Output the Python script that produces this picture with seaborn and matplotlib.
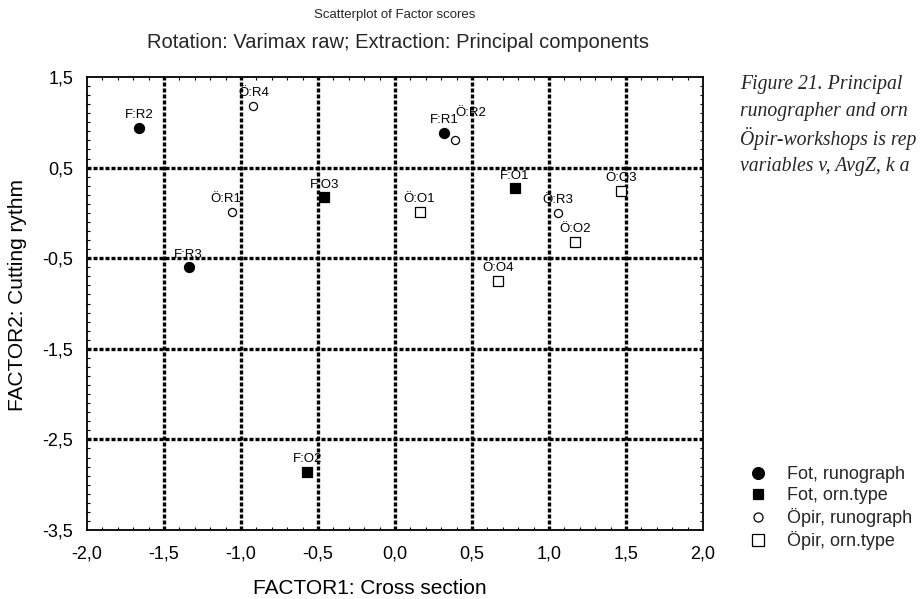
import numpy as np
import pandas as pd
import matplotlib
matplotlib.use("Agg")
import matplotlib.pyplot as plt
from matplotlib.lines import Line2D
from matplotlib.ticker import MultipleLocator, FixedLocator
import seaborn as sns

# Factor scores per workshop sample
point_labels = ["F:R1", "F:R2", "F:R3",
                "F:O1", "F:O2", "F:O3",
                "Ö:R1", "Ö:R2", "Ö:R3", "Ö:R4",
                "Ö:O1", "Ö:O2", "Ö:O3", "Ö:O4"]
factor1 = [0.32, -1.66, -1.34,
           0.78, -0.57, -0.46,
           -1.06, 0.39, 1.06, -0.92,
           0.16, 1.17, 1.47, 0.67]
factor2 = [0.88, 0.94, -0.60,
           0.27, -2.86, 0.17,
           0.01, 0.81, 0.00, 1.18,
           0.01, -0.32, 0.24, -0.75]
groups = ["Fot, runograph"] * 3 + ["Fot, orn.type"] * 3 + \
         ["Öpir, runograph"] * 4 + ["Öpir, orn.type"] * 4

group_order = ["Fot, runograph", "Fot, orn.type", "Öpir, runograph", "Öpir, orn.type"]
x_ticks = [-2.0, -1.5, -1.0, -0.5, 0.0, 0.5, 1.0, 1.5, 2.0]
y_ticks = [-3.5, -2.5, -1.5, -0.5, 0.5, 1.5]

title = "Scatterplot of Factor scores"
subtitle = "Rotation: Varimax raw; Extraction: Principal components"
caption_lines = ["Figure 21. Principal",
                 "runographer and orn",
                 "Öpir-workshops is rep",
                 "variables v, AvgZ, k a"]

df = pd.DataFrame({"x": factor1, "y": factor2, "label": point_labels, "group": groups})

sns.set_style("white")
plt.rcParams["font.family"] = ["Liberation Sans", "DejaVu Sans"]

# marker style per group: (marker, face, scatter size, legend size)
styles = {
    "Fot, runograph": ("o", "black", 52, 8.5),
    "Fot, orn.type": ("s", "black", 50, 7.5),
    "Öpir, runograph": ("o", "white", 34, 6.5),
    "Öpir, orn.type": ("s", "white", 46, 8.0),
}

fig = plt.figure(figsize=(9.24, 5.99), dpi=100)
ax = fig.add_axes([87 / 924, 1 - 530 / 599, 616 / 924, 453 / 599])

for g in group_order:
    m, fc, s, _ = styles[g]
    sub = df[df["group"] == g]
    sns.scatterplot(data=sub, x="x", y="y", ax=ax, marker=m, s=s,
                    color=fc, edgecolor="black", linewidth=0.9,
                    legend=False, zorder=5)

# point labels, nudged where neighbours would collide
nudges = {"Ö:R2": (11, 17), "Ö:R1": (-4, 7)}
for _, r in df.iterrows():
    dx, dy = nudges.get(r["label"], (0, 7))
    ax.annotate(r["label"], (r["x"], r["y"]), xytext=(dx, dy),
                textcoords="offset points", ha="center", va="baseline",
                fontsize=9.5, color="black", zorder=6)

ax.set_xlim(-2.0, 2.0)
ax.set_ylim(-3.5, 1.5)
ax.xaxis.set_major_locator(FixedLocator(x_ticks))
ax.yaxis.set_major_locator(FixedLocator(y_ticks))
ax.set_xticklabels([f"{v:.1f}".replace(".", ",") for v in x_ticks])
ax.set_yticklabels([f"{v:.1f}".replace(".", ",") for v in y_ticks])
ax.xaxis.set_minor_locator(MultipleLocator(0.1))
ax.yaxis.set_minor_locator(MultipleLocator(0.1))
ax.tick_params(which="major", length=0, labelsize=13, colors="black")
ax.tick_params(axis="x", which="major", pad=11)
ax.tick_params(axis="y", which="major", pad=10)
ax.tick_params(which="minor", direction="in", length=2.5, width=0.8,
               top=True, right=True, bottom=True, left=True, color="black")

# heavy dotted grid at the inner tick positions
for v in x_ticks[1:-1]:
    ax.axvline(v, color="black", lw=2.4, ls=(0, (1.2, 0.6)), zorder=1)
for v in y_ticks[1:-1]:
    ax.axhline(v, color="black", lw=2.4, ls=(0, (1.2, 0.6)), zorder=1)

for sp in ax.spines.values():
    sp.set_visible(True)
    sp.set_color("black")
    sp.set_linewidth(1.3)
    sp.set_linestyle((0, (2, 1)))

ax.set_xlabel("FACTOR1: Cross section", fontsize=15, color="black")
ax.set_ylabel("FACTOR2: Cutting rythm", fontsize=15, color="black")
ax.xaxis.set_label_coords((370 - 87) / 616, (530 - 588) / 453)
ax.xaxis.label.set_va("center")
ax.yaxis.set_label_coords((18 - 87) / 616, (530 - 295) / 453)
ax.yaxis.label.set_va("center")

fig.text(395 / 924, 1 - 15 / 599, title, ha="center", va="center", fontsize=9.5)
fig.text(398 / 924, 1 - 43 / 599, subtitle, ha="center", va="center", fontsize=14.5)

for i, line in enumerate(caption_lines):
    fig.text(740 / 924, 1 - (84 + 27.5 * i) / 599, line, ha="left", va="center",
             fontsize=14.2, style="italic", family=["Liberation Serif", "DejaVu Serif"])

handles = [Line2D([], [], ls="none", marker=styles[g][0], markersize=styles[g][3],
                  markerfacecolor=styles[g][1], markeredgecolor="black",
                  markeredgewidth=0.9)
           for g in group_order]
fig.legend(handles, group_order, loc="upper left",
           bbox_to_anchor=(749 / 924, 1 - 466 / 599), frameon=False,
           fontsize=13, borderpad=0, borderaxespad=0, handlelength=1.0,
           handletextpad=1.1, labelspacing=0.22)

fig.savefig("out.png", dpi=100)
